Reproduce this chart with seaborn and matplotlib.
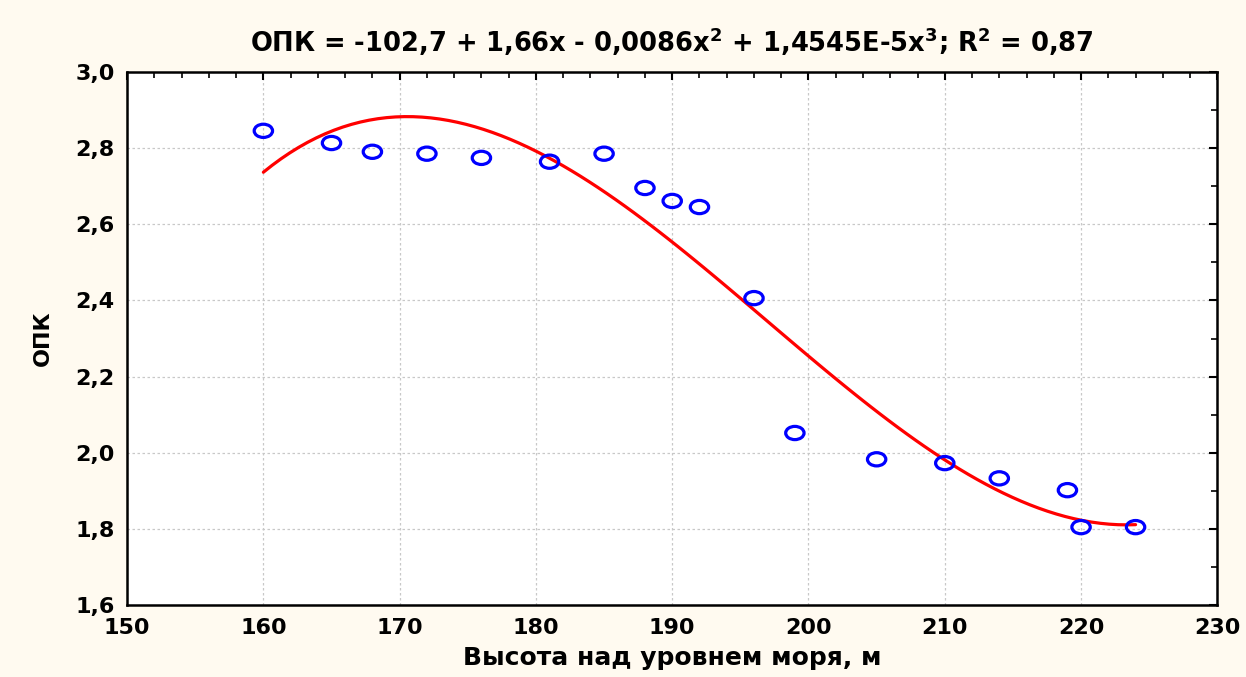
import numpy as np
import pandas as pd
import matplotlib
matplotlib.use("Agg")
import matplotlib.pyplot as plt
from matplotlib.path import Path
from matplotlib.ticker import MultipleLocator, FuncFormatter
import seaborn as sns

height = [160, 165, 168, 172, 176, 181, 185, 188, 190, 192, 196, 199, 205, 210, 214, 219, 220, 224]
opk = [2.845, 2.813, 2.79, 2.785, 2.774, 2.764, 2.785, 2.695, 2.661, 2.645, 2.406, 2.052,
       1.983, 1.973, 1.933, 1.902, 1.805, 1.805]
title = "ОПК = -102,7 + 1,66x - 0,0086x$^2$ + 1,4545E-5x$^3$; R$^2$ = 0,87"
xlabel = "Высота над уровнем моря, м"
ylabel = "ОПК"

df = pd.DataFrame({"h": height, "opk": opk})

sns.set_style("white")
plt.rcParams["font.family"] = ["DejaVu Sans"]
plt.rcParams["font.weight"] = "bold"
plt.rcParams["mathtext.default"] = "bf"
plt.rcParams["text.color"] = "black"
plt.rcParams["axes.labelcolor"] = "black"
plt.rcParams["xtick.color"] = "black"
plt.rcParams["ytick.color"] = "black"

fig = plt.figure(figsize=(12.46, 6.77), dpi=100)
fig.patch.set_facecolor("#FFFAF0")
ax = fig.add_axes([0.102, 0.106, 0.875, 0.788])
ax.set_facecolor("white")

# elliptical marker
uc = Path.unit_circle()
ell = Path(uc.vertices * np.array([1.0, 0.72]), uc.codes)

sns.regplot(data=df, x="h", y="opk", order=3, ci=None, scatter=False, truncate=True,
            line_kws=dict(color="#FF0000", lw=2.3), ax=ax)
sns.scatterplot(data=df, x="h", y="opk", marker=ell, s=175, facecolors="none",
                edgecolor="#0000FF", linewidth=2.3, ax=ax, zorder=3)

ax.set_xlim(150, 230)
ax.set_ylim(1.6, 3.0)
ax.xaxis.set_major_locator(MultipleLocator(10))
ax.xaxis.set_minor_locator(MultipleLocator(2))
ax.yaxis.set_major_locator(MultipleLocator(0.2))
ax.yaxis.set_minor_locator(MultipleLocator(0.1))
ax.yaxis.set_major_formatter(FuncFormatter(lambda v, p: f"{v:.1f}".replace(".", ",")))
ax.tick_params(which="both", direction="in", top=True, right=True, colors="black")
ax.tick_params(which="major", length=6, width=1.5, labelsize=16, pad=9)
ax.tick_params(which="minor", length=4, width=1.2)
for lab in ax.get_xticklabels() + ax.get_yticklabels():
    lab.set_fontweight("bold")
ax.grid(True, which="major", color="#C8C8C8", linestyle=(0, (2, 2)), linewidth=0.9)
for s in ax.spines.values():
    s.set_color("black")
    s.set_linewidth(1.8)

ax.set_xlabel(xlabel, fontsize=18, fontweight="bold", labelpad=6)
ax.set_ylabel(ylabel, fontsize=16, fontweight="bold", labelpad=16)
ax.set_title(title, fontsize=18.5, fontweight="bold", pad=14)

fig.savefig("out.png", dpi=100, facecolor=fig.get_facecolor())
